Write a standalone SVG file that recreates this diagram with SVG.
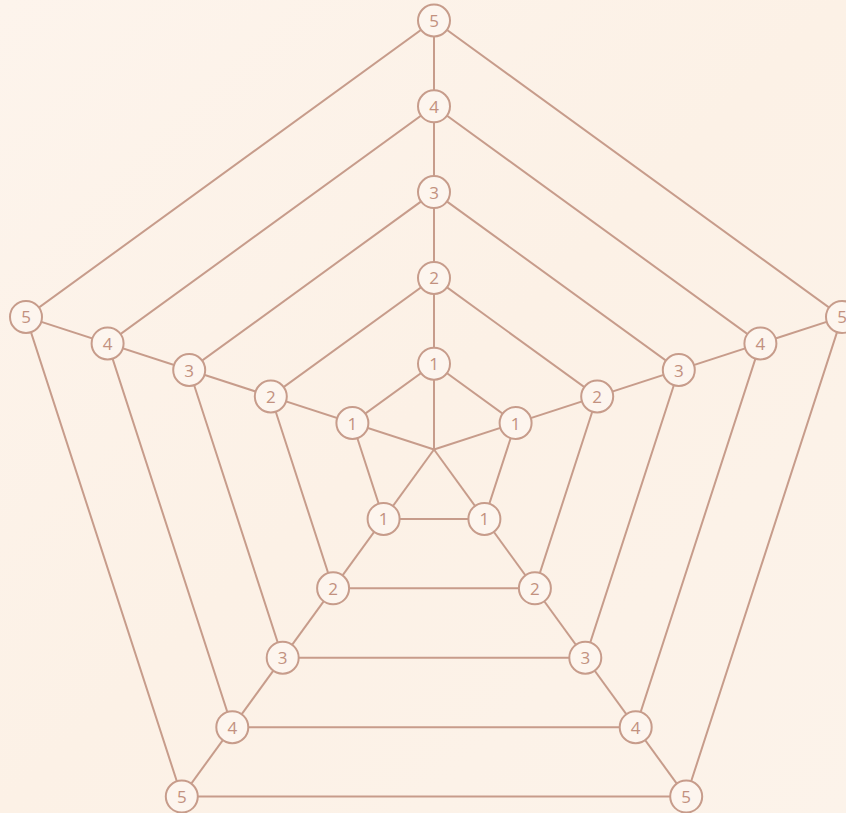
<svg xmlns="http://www.w3.org/2000/svg" width="846" height="813" viewBox="0 0 846 813">
<defs>
<style>
.ln{fill:none;stroke:#c79c8b;stroke-width:2}
.nd circle{fill:#fdf5ee;stroke:#c79c8b;stroke-width:2}
.nd text{fill:#c2917f;font-family:"Open Sans","Noto Sans",sans-serif;font-size:17px;text-anchor:middle;dominant-baseline:central}
</style>
<linearGradient id="bg" x1="0" y1="0" x2="1" y2="1">
<stop offset="0" stop-color="#fdf4ec"/>
<stop offset="0.5" stop-color="#fcf1e6"/>
<stop offset="1" stop-color="#fcf3ea"/>
</linearGradient>
</defs>
<rect width="846" height="813" fill="url(#bg)"/>
<g id="connectors" class="ln">
<polygon points="434,363.7 515.6,423 484.4,518.9 383.6,518.9 352.4,423"/>
<polygon points="434,277.9 597.2,396.5 534.9,588.3 333.1,588.3 270.8,396.5"/>
<polygon points="434,192.1 678.8,370 585.3,657.7 282.7,657.7 189.2,370"/>
<polygon points="434,106.3 760.4,343.4 635.7,727.2 232.3,727.2 107.6,343.4"/>
<polygon points="434,20.5 842,316.9 686.2,796.6 181.8,796.6 26,316.9"/>
<line x1="434" y1="449.5" x2="434" y2="20.5"/>
<line x1="434" y1="449.5" x2="842" y2="316.9"/>
<line x1="434" y1="449.5" x2="686.2" y2="796.6"/>
<line x1="434" y1="449.5" x2="181.8" y2="796.6"/>
<line x1="434" y1="449.5" x2="26" y2="316.9"/>
</g>
<g id="n1-top" class="nd"><circle cx="434" cy="363.7" r="16"/><text x="434" y="363.7">1</text></g>
<g id="n1-ur" class="nd"><circle cx="515.6" cy="423" r="16"/><text x="515.6" y="423">1</text></g>
<g id="n1-lr" class="nd"><circle cx="484.4" cy="518.9" r="16"/><text x="484.4" y="518.9">1</text></g>
<g id="n1-ll" class="nd"><circle cx="383.6" cy="518.9" r="16"/><text x="383.6" y="518.9">1</text></g>
<g id="n1-ul" class="nd"><circle cx="352.4" cy="423" r="16"/><text x="352.4" y="423">1</text></g>
<g id="n2-top" class="nd"><circle cx="434" cy="277.9" r="16"/><text x="434" y="277.9">2</text></g>
<g id="n2-ur" class="nd"><circle cx="597.2" cy="396.5" r="16"/><text x="597.2" y="396.5">2</text></g>
<g id="n2-lr" class="nd"><circle cx="534.9" cy="588.3" r="16"/><text x="534.9" y="588.3">2</text></g>
<g id="n2-ll" class="nd"><circle cx="333.1" cy="588.3" r="16"/><text x="333.1" y="588.3">2</text></g>
<g id="n2-ul" class="nd"><circle cx="270.8" cy="396.5" r="16"/><text x="270.8" y="396.5">2</text></g>
<g id="n3-top" class="nd"><circle cx="434" cy="192.1" r="16"/><text x="434" y="192.1">3</text></g>
<g id="n3-ur" class="nd"><circle cx="678.8" cy="370" r="16"/><text x="678.8" y="370">3</text></g>
<g id="n3-lr" class="nd"><circle cx="585.3" cy="657.7" r="16"/><text x="585.3" y="657.7">3</text></g>
<g id="n3-ll" class="nd"><circle cx="282.7" cy="657.7" r="16"/><text x="282.7" y="657.7">3</text></g>
<g id="n3-ul" class="nd"><circle cx="189.2" cy="370" r="16"/><text x="189.2" y="370">3</text></g>
<g id="n4-top" class="nd"><circle cx="434" cy="106.3" r="16"/><text x="434" y="106.3">4</text></g>
<g id="n4-ur" class="nd"><circle cx="760.4" cy="343.4" r="16"/><text x="760.4" y="343.4">4</text></g>
<g id="n4-lr" class="nd"><circle cx="635.7" cy="727.2" r="16"/><text x="635.7" y="727.2">4</text></g>
<g id="n4-ll" class="nd"><circle cx="232.3" cy="727.2" r="16"/><text x="232.3" y="727.2">4</text></g>
<g id="n4-ul" class="nd"><circle cx="107.6" cy="343.4" r="16"/><text x="107.6" y="343.4">4</text></g>
<g id="n5-top" class="nd"><circle cx="434" cy="20.5" r="16"/><text x="434" y="20.5">5</text></g>
<g id="n5-ur" class="nd"><circle cx="842" cy="316.9" r="16"/><text x="842" y="316.9">5</text></g>
<g id="n5-lr" class="nd"><circle cx="686.2" cy="796.6" r="16"/><text x="686.2" y="796.6">5</text></g>
<g id="n5-ll" class="nd"><circle cx="181.8" cy="796.6" r="16"/><text x="181.8" y="796.6">5</text></g>
<g id="n5-ul" class="nd"><circle cx="26" cy="316.9" r="16"/><text x="26" y="316.9">5</text></g>
</svg>
